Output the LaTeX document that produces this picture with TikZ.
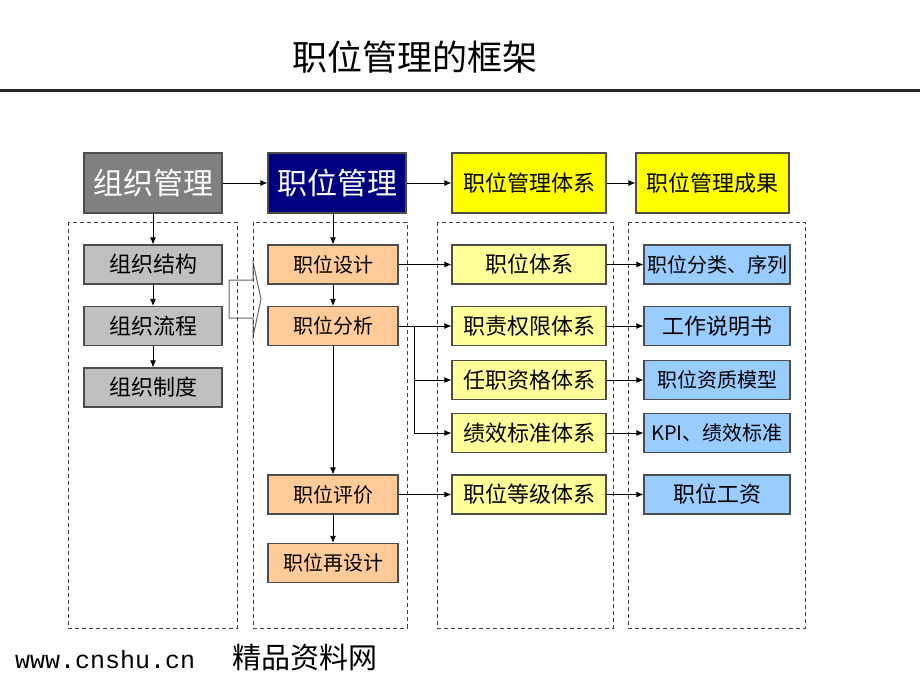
\documentclass[tikz,border=0pt]{standalone}
\usepackage{fontspec}
\setmainfont{Liberation Serif}
\newfontfamily\cjk{Noto Sans CJK SC}
\newfontfamily\sitefont{Liberation Mono}
\usetikzlibrary{arrows.meta}

\definecolor{zzgray}{RGB}{128,128,128}
\definecolor{zwnavy}{RGB}{0,0,128}
\definecolor{txyellow}{RGB}{255,255,0}
\definecolor{lgray}{RGB}{192,192,192}
\definecolor{peach}{RGB}{255,204,153}
\definecolor{lyellow}{RGB}{255,255,153}
\definecolor{lblue}{RGB}{153,204,255}

\begin{document}
\begin{tikzpicture}[x=1pt,y=-1pt,
  box/.style={draw=black!70, line width=1.2pt, inner sep=0pt, minimum height=39,
    font=\cjk\fontsize{22}{22}\selectfont},
  topbox/.style={box, minimum height=60},
  arr/.style={-{Latex[length=7pt,width=6pt]}, line width=0.8pt},
  dashbox/.style={draw=black!75, line width=0.8pt, dash pattern=on 4pt off 3pt}]
\useasboundingbox (0,0) rectangle (920,690);

  \node[font=\cjk\fontsize{35}{35}\selectfont] (title) at (415,57) {职位管理的框架};
  \draw[line width=3pt, black!85] (0,91) -- (920,91);

% hollow block arrow
  \draw[black!60, line width=1pt] (229,280) -- (253,280) -- (253,262) -- (261,299)
    -- (253,337) -- (253,318) -- (229,318) -- cycle;

% dashed columns
  \draw[dashbox] (68,222) rectangle (237,628);
  \draw[dashbox] (253,222) rectangle (407,628);
  \draw[dashbox] (437,222) rectangle (613,628);
  \draw[dashbox] (628,222) rectangle (805,628);

  \node[topbox, fill=zzgray, text=white, minimum width=138,
    font=\cjk\fontsize{30}{30}\selectfont] (zzgl) at (153,183) {组织管理};
  \node[topbox, fill=zwnavy, text=white, minimum width=138,
    font=\cjk\fontsize{30}{30}\selectfont] (zwgl) at (337,183) {职位管理};
  \node[topbox, fill=txyellow, minimum width=154] (zwtx) at (529,183) {职位管理体系};
  \node[topbox, fill=txyellow, minimum width=153] (zwcg) at (712.5,183) {职位管理成果};

  \node[box, fill=lgray, minimum width=138] (zzjg) at (153,264.5) {组织结构};
  \node[box, fill=lgray, minimum width=138] (zzlc) at (153,326) {组织流程};
  \node[box, fill=lgray, minimum width=138] (zzzd) at (153,387.5) {组织制度};

  \node[box, fill=peach, minimum width=130, font=\cjk\fontsize{20}{20}\selectfont] (zwsj) at (333,264.5) {职位设计};
  \node[box, fill=peach, minimum width=130, font=\cjk\fontsize{20}{20}\selectfont] (zwfx) at (333,326) {职位分析};
  \node[box, fill=peach, minimum width=130, font=\cjk\fontsize{20}{20}\selectfont] (zwpj) at (333,494.5) {职位评价};
  \node[box, fill=peach, minimum width=130, font=\cjk\fontsize{20}{20}\selectfont] (zwzsj) at (333,563) {职位再设计};

  \node[box, fill=lyellow, minimum width=154] (zwtx1) at (529,264.5) {职位体系};
  \node[box, fill=lyellow, minimum width=154] (zzqx) at (529,326) {职责权限体系};
  \node[box, fill=lyellow, minimum width=154] (rzzg) at (529,380) {任职资格体系};
  \node[box, fill=lyellow, minimum width=154] (jxbz) at (529,433) {绩效标准体系};
  \node[box, fill=lyellow, minimum width=154] (zwdj) at (529,494.5) {职位等级体系};

  \node[box, fill=lblue, minimum width=146, font=\cjk\fontsize{20}{20}\selectfont] (zwfl) at (717,264.5) {职位分类、序列};
  \node[box, fill=lblue, minimum width=146] (gzsm) at (717,326) {工作说明书};
  \node[box, fill=lblue, minimum width=146, font=\cjk\fontsize{20}{20}\selectfont] (zwzz) at (717,380) {职位资质模型};
  \node[box, fill=lblue, minimum width=146, font=\cjk\fontsize{20}{20}\selectfont] (kpi) at (717,433) {KPI、绩效标准};
  \node[box, fill=lblue, minimum width=146] (zwgz) at (717,494.5) {职位工资};

% top row
  \draw[arr] (zzgl) -- (zwgl);
  \draw[arr] (zwgl) -- (zwtx);
  \draw[arr] (zwtx) -- (zwcg);

  \draw[arr] (zzgl) -- (zzjg);
  \draw[arr] (zzjg) -- (zzlc);
  \draw[arr] (zzlc) -- (zzzd);

  \draw[arr] (zwgl.south -| zwsj.north) -- (zwsj);
  \draw[arr] (zwsj) -- (zwfx);
  \draw[arr] (zwfx) -- (zwpj);
  \draw[arr] (zwpj) -- (zwzsj);

  \draw[arr] (zwsj) -- (zwtx1);
  \draw[arr] (zwfx) -- (zzqx);
  \coordinate (br) at (414,0);
  \draw[arr] (br |- zwfx.east) |- (rzzg);
  \draw[arr] (br |- zwfx.east) |- (jxbz);
  \draw[arr] (zwpj) -- (zwdj);

  \draw[arr] (zwtx1) -- (zwfl);
  \draw[arr] (zzqx) -- (gzsm);
  \draw[arr] (rzzg) -- (zwzz);
  \draw[arr] (jxbz) -- (kpi);
  \draw[arr] (zwdj) -- (zwgz);

  \node[anchor=base west, inner sep=0pt, font=\sitefont\fontsize{25}{25}\selectfont] (site) at (15,668) {www.cnshu.cn};
  \node[anchor=base west, inner sep=0pt, font=\cjk\fontsize{29}{29}\selectfont] (sitecn) at (232,668) {精品资料网};
\end{tikzpicture}
\end{document}
